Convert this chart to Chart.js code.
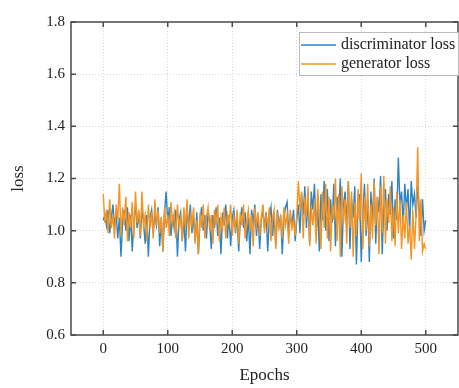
<!DOCTYPE html>
<html>
<head>
<meta charset="utf-8">
<script src="https://cdn.jsdelivr.net/npm/chart.js@4"></script>
<style>
  html, body { margin: 0; padding: 0; background: #fff; }
  #wrap { width: 459px; height: 388px; }
</style>
</head>
<body>
<div id="wrap"><canvas id="lossChart" width="459" height="388"></canvas></div>
<script>
// one value every 2.5 epochs, rows of 10 = 25 epochs
const discLoss = [
  1.04, 1.06, 1.02, 1.08, 0.99, 1.05, 1.10, 1.01, 1.07, 0.97,
  1.05, 0.90, 1.03, 1.08, 1.00, 1.09, 0.96, 1.06, 0.92, 1.04,
  1.10, 1.01, 1.07, 0.97, 1.09, 1.03, 0.95, 1.06, 0.90, 1.05,
  1.08, 0.99, 1.06, 1.02, 1.09, 0.94, 1.05, 0.92, 1.07, 1.15,
  1.03, 1.09, 0.98, 1.06, 1.01, 1.08, 0.90, 1.04, 1.07, 0.96,
  1.05, 0.92, 1.08, 1.02, 1.10, 0.99, 1.05, 0.96, 1.07, 0.91,
  1.04, 1.09, 1.00, 1.06, 0.97, 1.08, 1.03, 0.93, 1.06, 1.01,
  1.09, 0.98, 1.05, 0.91, 1.07, 1.02, 1.10, 0.97, 1.06, 0.94,
  1.05, 1.08, 0.99, 1.06, 0.92, 1.04, 1.09, 1.01, 1.07, 0.96,
  1.05, 0.91, 1.08, 1.03, 1.10, 0.98, 1.06, 0.93, 1.04, 1.08,
  1.01, 1.07, 0.92, 1.05, 1.09, 0.98, 1.06, 0.94, 1.08, 1.02,
  1.06, 0.91, 1.04, 1.09, 1.11, 0.99, 1.06, 1.02, 1.08, 0.96,
  1.04, 1.10, 0.99, 1.14, 1.06, 1.17, 1.01, 1.12, 0.95, 1.15,
  1.08, 1.18, 0.98, 1.10, 0.92, 1.14, 1.04, 1.19, 1.00, 1.16,
  0.96, 1.12, 1.03, 1.18, 0.94, 1.13, 1.06, 1.20, 0.90, 1.10,
  1.15, 1.02, 1.19, 0.93, 1.12, 1.05, 1.17, 0.87, 1.09, 1.14,
  0.88, 1.06, 1.18, 0.98, 1.12, 0.88, 1.15, 1.03, 1.20, 0.95,
  1.13, 1.07, 1.21, 0.91, 1.10, 1.16, 1.00, 1.14, 1.06, 1.19,
  0.97, 1.12, 1.04, 1.28, 1.10, 1.15, 1.02, 1.18, 1.08, 1.16,
  0.99, 1.19, 1.10, 1.14, 1.05, 1.17, 1.08, 0.98, 1.12, 1.00,
  1.04
];

const genLoss = [
  1.14, 1.03, 1.08, 0.99, 1.12, 1.01, 1.06, 0.97, 1.10, 1.04,
  1.18, 0.98, 1.09, 1.02, 1.13, 0.96, 1.07, 1.01, 1.11, 0.97,
  1.15, 1.03, 1.08, 0.98, 1.15, 1.02, 1.06, 0.96, 1.10, 1.01,
  1.07, 0.97, 1.12, 1.02, 1.08, 0.99, 1.05, 0.92, 1.09, 1.01,
  1.06, 0.98, 1.11, 1.03, 1.07, 0.97, 1.10, 1.02, 1.05, 0.96,
  1.09, 1.01, 1.12, 0.97, 1.06, 1.02, 1.09, 0.95, 1.04, 0.91,
  1.07, 1.01, 1.10, 0.97, 1.05, 1.09, 1.00, 1.06, 0.95, 1.08,
  1.02, 1.10, 0.96, 1.05, 1.01, 1.09, 0.97, 1.06, 1.03, 1.10,
  0.98, 1.05, 1.01, 1.08, 0.95, 1.07, 1.02, 1.10, 0.97, 1.04,
  1.08, 1.00, 1.06, 0.94, 1.09, 1.02, 1.07, 0.98, 1.05, 1.10,
  0.99, 1.06, 1.02, 1.09, 0.96, 1.05, 1.08, 0.93, 1.07, 1.01,
  1.05, 0.97, 1.09, 1.02, 1.06, 0.95, 1.08, 1.01, 1.04, 0.98,
  1.06, 1.19, 1.08, 1.15, 0.97, 1.13, 1.05, 1.17, 0.94, 1.09,
  1.02, 1.12, 0.95, 1.16, 1.06, 0.93, 1.15, 1.01, 1.18, 0.97,
  1.13, 0.92, 1.10, 1.04, 1.20, 0.96, 1.14, 0.90, 1.17, 1.03,
  1.12, 0.95, 1.19, 1.01, 1.15, 0.90, 1.11, 0.98, 1.16, 1.04,
  1.22, 0.93, 1.13, 1.00, 1.18, 0.94, 1.10, 0.97, 1.19, 1.02,
  1.13, 0.91, 1.17, 0.99, 1.21, 0.95, 1.12, 1.03, 1.17, 0.96,
  1.09, 0.94, 1.15, 0.99, 1.12, 0.93, 1.06, 0.97, 1.11, 0.95,
  1.02, 0.89, 1.08, 0.93, 1.06, 1.32, 0.96, 1.12, 0.92, 0.95,
  0.93
];

const epochs = discLoss.map((_, i) => i * 2.5);

const seriesNames = ['discriminator loss', 'generator loss'];
const seriesColors = ['#2b84c6', '#f7931e'];
const xTickVals = [0, 100, 200, 300, 400, 500];
const yTickVals = [0.6, 0.8, 1.0, 1.2, 1.4, 1.6, 1.8];

const serif = "'Liberation Serif', 'Times New Roman', serif";

// frame with inward ticks + legend box inside the plot
const framePlugin = {
  id: 'frame',
  afterDatasetsDraw(chart) {
    const {ctx, chartArea: a, scales} = chart;
    const x = scales.x, y = scales.y;
    ctx.save();
    ctx.strokeStyle = '#4a4a4a';
    ctx.lineWidth = 1.5;
    ctx.strokeRect(a.left, a.top, a.right - a.left, a.bottom - a.top);
    ctx.beginPath();
    xTickVals.forEach(v => {
      const px = x.getPixelForValue(v);
      ctx.moveTo(px, a.bottom); ctx.lineTo(px, a.bottom - 5);
      ctx.moveTo(px, a.top); ctx.lineTo(px, a.top + 5);
    });
    yTickVals.forEach(v => {
      const py = y.getPixelForValue(v);
      ctx.moveTo(a.left, py); ctx.lineTo(a.left + 5, py);
      ctx.moveTo(a.right, py); ctx.lineTo(a.right - 5, py);
    });
    ctx.stroke();

    // legend
    const lx = 299, ly = 32, lw = a.right - lx, lh = 43;
    ctx.fillStyle = '#fff';
    ctx.fillRect(lx, ly, lw, lh);
    ctx.strokeStyle = '#bbb';
    ctx.lineWidth = 1;
    ctx.strokeRect(lx + 0.5, ly + 0.5, lw, lh);
    ctx.font = '16px ' + serif;
    ctx.textBaseline = 'middle';
    seriesNames.forEach((name, i) => {
      const yy = ly + 13 + i * 19;
      ctx.strokeStyle = seriesColors[i];
      ctx.lineWidth = 1.5;
      ctx.beginPath();
      ctx.moveTo(lx + 2, yy); ctx.lineTo(lx + 37, yy);
      ctx.stroke();
      ctx.fillStyle = '#222';
      ctx.fillText(name, lx + 42, yy);
    });
    ctx.restore();
  }
};

const ctx = document.getElementById('lossChart');

new Chart(ctx, {
  type: 'line',
  data: {
    datasets: [
      {
        label: seriesNames[0],
        data: epochs.map((e, i) => ({x: e, y: discLoss[i]})),
        borderColor: seriesColors[0],
        borderWidth: 1.4,
        pointRadius: 0,
        tension: 0,
        order: 1,
      },
      {
        label: seriesNames[1],
        data: epochs.map((e, i) => ({x: e, y: genLoss[i]})),
        borderColor: seriesColors[1],
        borderWidth: 1.4,
        pointRadius: 0,
        tension: 0,
        order: 0,
      }
    ]
  },
  options: {
    responsive: false,
    animation: false,
    layout: { padding: { top: 22, right: 1, left: 0, bottom: 0 } },
    plugins: {
      legend: { display: false },
      tooltip: { enabled: false },
    },
    scales: {
      x: {
        type: 'linear',
        min: -50,
        max: 550,
        afterBuildTicks: axis => { axis.ticks = xTickVals.map(v => ({value: v})); },
        afterFit: axis => { axis.height = 53; },
        grid: { color: '#d8d8d8', lineWidth: 1, drawTicks: false },
        border: { display: false, dash: [1, 2] },
        ticks: { color: '#222', padding: 5, font: { family: serif, size: 15 } },
        title: {
          display: true, text: 'Epochs', color: '#222',
          font: { family: serif, size: 17 }, padding: { top: 0, bottom: 2 }
        }
      },
      y: {
        min: 0.6,
        max: 1.8,
        afterBuildTicks: axis => { axis.ticks = yTickVals.map(v => ({value: v})); },
        afterFit: axis => { axis.width = 71; },
        grid: { color: '#d8d8d8', lineWidth: 1, drawTicks: false },
        border: { display: false, dash: [1, 2] },
        ticks: {
          color: '#222', padding: 6, font: { family: serif, size: 15 },
          callback: v => v.toFixed(1)
        },
        title: {
          display: true, text: 'loss', color: '#222',
          font: { family: serif, size: 17 }, padding: { top: 8, bottom: 0 }
        }
      }
    }
  },
  plugins: [framePlugin]
});
</script>
</body>
</html>
